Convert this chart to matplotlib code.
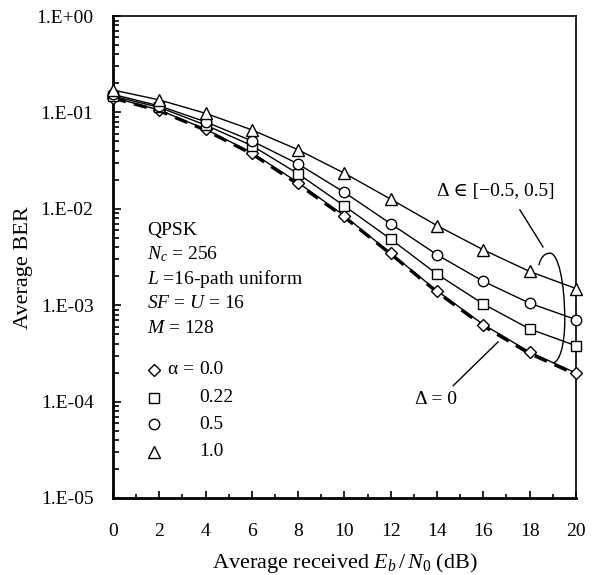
import math
import matplotlib
matplotlib.use("Agg")
import matplotlib.pyplot as plt
from matplotlib.path import Path
from matplotlib.patches import PathPatch
from matplotlib.ticker import FixedLocator, FuncFormatter, LogLocator, NullFormatter

plt.rcParams["font.family"] = ["Liberation Serif", "DejaVu Serif"]
plt.rcParams["mathtext.fontset"] = "custom"
plt.rcParams["mathtext.rm"] = "Liberation Serif"
plt.rcParams["mathtext.it"] = "Liberation Serif:italic"

ebn0 = [0, 2, 4, 6, 8, 10, 12, 14, 16, 18, 20]
ber_a00 = [0.143, 0.106, 0.067, 0.0383, 0.0187, 0.00846, 0.00347, 0.00141, 0.00063, 0.000327, 0.000198]
ber_a022 = [0.148, 0.113, 0.074, 0.0453, 0.0231, 0.0107, 0.00485, 0.00210, 0.00103, 0.000567, 0.00038]
ber_a05 = [0.154, 0.117, 0.080, 0.0507, 0.0292, 0.0148, 0.0070, 0.00334, 0.00177, 0.00105, 0.00071]
ber_a10 = [0.171, 0.135, 0.098, 0.066, 0.041, 0.0234, 0.0126, 0.0067, 0.00376, 0.00224, 0.00149]
ber_delta0 = [0.141, 0.104, 0.0655, 0.0372, 0.0180, 0.0082, 0.0034, 0.00137, 0.00061, 0.000315, 0.000192]

alpha_labels = ["0.0", "0.22", "0.5", "1.0"]
series = [(ber_a00, "D", 6.0), (ber_a022, "s", 7.5), (ber_a05, "o", 7.5), (ber_a10, "^", 8.0)]

fig = plt.figure(figsize=(5.98, 5.75), dpi=100)
ax = fig.add_axes([0.189, 0.134, 0.774, 0.838])

# delta = 0 reference curve (thick dashed)
ax.plot(ebn0, ber_delta0, color="black", lw=2.4, ls=(0, (4, 2.5)), zorder=2)
for ber, mk, ms in series:
    ax.plot(ebn0, ber, color="black", lw=1.0, marker=mk, ms=ms,
            mfc="white", mec="black", mew=1.0, zorder=3, clip_on=False)

ax.set_yscale("log")
ax.set_xlim(0, 20)
ax.set_ylim(1e-5, 1)
ax.xaxis.set_major_locator(FixedLocator(range(0, 21, 2)))
ax.xaxis.set_minor_locator(FixedLocator(range(1, 21, 2)))
ax.yaxis.set_major_locator(LogLocator(base=10, numticks=10))
ax.yaxis.set_minor_locator(LogLocator(base=10, subs=range(2, 10), numticks=20))
ax.yaxis.set_minor_formatter(NullFormatter())
ax.yaxis.set_major_formatter(FuncFormatter(lambda v, p: "1.E%+03d" % round(math.log10(v))))

ax.tick_params(axis="both", which="both", direction="in", top=False, right=False, width=1.2)
ax.tick_params(axis="y", which="major", length=6, pad=14, labelsize=14)
ax.tick_params(axis="y", which="minor", length=4)
ax.tick_params(axis="x", which="major", length=5, pad=18, labelsize=14)
ax.tick_params(axis="x", which="minor", length=3)

for s in ["left", "bottom"]:
    ax.spines[s].set_linewidth(2.0)
for s in ["top", "right"]:
    ax.spines[s].set_linewidth(1.2)

ax.set_ylabel("Average BER", fontsize=16)
ax.yaxis.set_label_coords(-0.172, 0.477)
ax.set_xlabel("Average received $E_b\\,/\\,N_0$ (dB)", fontsize=16)
ax.xaxis.set_label_coords(0.501, -0.110)

params = ["QPSK", "$N_c$ = 256", "$L$ =16-path uniform", "$SF$ = $U$ = 16", "$M$ = 128"]
for i, t in enumerate(params):
    ax.text(0.073, 0.545 - i * 0.0505, t, transform=ax.transAxes, fontsize=14, va="baseline")

leg_y = [0.266, 0.208, 0.153, 0.096]
for (ber, mk, ms), lab, yy in zip(series, alpha_labels, leg_y):
    ax.plot([0.089], [yy], marker=mk, ms=ms, mfc="white", mec="black", mew=1.0,
            transform=ax.transAxes, ls="none")
    ax.text(0.186, yy, lab, transform=ax.transAxes, fontsize=14, va="center")
ax.text(0.119, leg_y[0], "\u03b1 = ", transform=ax.transAxes, fontsize=14, va="center")

ax.text(0.699, 0.635, "\u0394 \u2208 [\u22120.5, 0.5]", transform=ax.transAxes, fontsize=14, va="center")
ax.plot([0.879, 0.929], [0.598, 0.521], color="black", lw=1.0, transform=ax.transAxes)
verts = [(0.920, 0.483), (0.924, 0.500), (0.933, 0.508), (0.944, 0.508),
         (0.961, 0.508), (0.976, 0.452), (0.976, 0.369),
         (0.976, 0.317), (0.965, 0.282), (0.950, 0.280)]
codes = [Path.MOVETO] + [Path.CURVE4] * 9
ax.add_patch(PathPatch(Path(verts, codes), fc="none", ec="black", lw=1.0, transform=ax.transAxes))

ax.text(0.652, 0.205, "\u0394 = 0", transform=ax.transAxes, fontsize=14, va="center")
ax.plot([0.735, 0.832], [0.233, 0.324], color="black", lw=1.0, transform=ax.transAxes)

fig.savefig("out.png", dpi=100)
